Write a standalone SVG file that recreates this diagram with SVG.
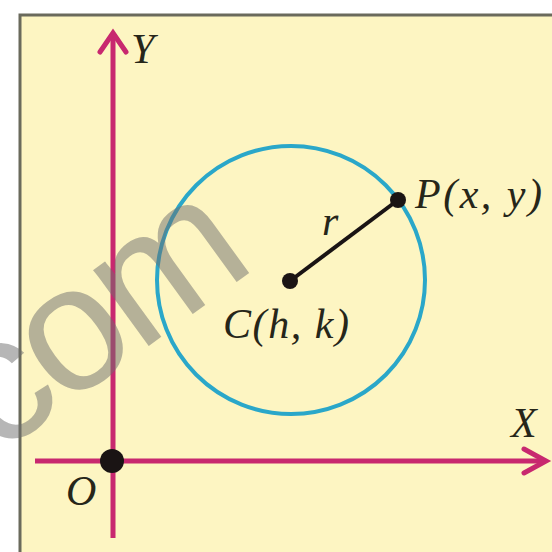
<svg xmlns="http://www.w3.org/2000/svg" width="552" height="552" viewBox="0 0 552 552">
  <style>
    .axis { stroke: #c8286f; stroke-width: 5; fill: none; stroke-linecap: butt; }
    .head { stroke: #c8286f; stroke-width: 5; fill: none; stroke-linejoin: miter; stroke-linecap: round; }
    .lbl { font-family: "Liberation Serif", "Times New Roman", serif; font-style: italic; font-size: 42px; fill: #262619; }
    .dot { fill: #1a1414; }
  </style>
  <rect x="0" y="0" width="552" height="552" fill="#ffffff"/>
  <rect x="20" y="15" width="560" height="560" fill="#fdf5c2" stroke="#6a6a5c" stroke-width="3"/>

  <g id="circle">
    <circle cx="291" cy="280" r="134" fill="none" stroke="#2aa7c9" stroke-width="4"/>
  </g>

  <g id="connectors">
    <line class="axis" x1="113" y1="538" x2="113" y2="36"/>
    <polyline class="head" points="100,52 113,33 126,52"/>
    <line class="axis" x1="35" y1="461" x2="543" y2="461"/>
    <polyline class="head" points="524,449 546,461 524,473"/>
    <line x1="290" y1="281" x2="398" y2="200" stroke="#1a1414" stroke-width="4"/>
  </g>

  <g id="origin">
    <circle class="dot" cx="112" cy="461" r="12"/>
    <text class="lbl" x="66" y="505">O</text>
  </g>
  <g id="center">
    <circle class="dot" cx="290" cy="281" r="8"/>
    <text class="lbl" x="223" y="338" textLength="126">C(h, k)</text>
  </g>
  <g id="point">
    <circle class="dot" cx="398" cy="200" r="8"/>
    <text class="lbl" x="415" y="208" textLength="127">P(x, y)</text>
  </g>
  <g id="radius-label">
    <text class="lbl" x="322" y="235">r</text>
  </g>
  <g id="y-label">
    <text class="lbl" x="131" y="63" font-size="45">Y</text>
  </g>
  <g id="x-label">
    <text class="lbl" x="511" y="437">X</text>
  </g>

  <g id="watermark" transform="translate(76,342) rotate(-36)">
    <text x="-132" y="46" font-family="Liberation Sans, Arial, sans-serif" font-size="178" letter-spacing="-6" fill="#6e6e6e" fill-opacity="0.5">com</text>
  </g>
</svg>
